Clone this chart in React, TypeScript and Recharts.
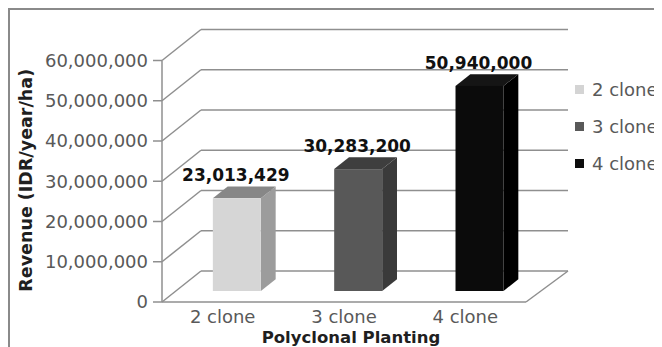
import React from 'react';
import { BarChart, Bar, XAxis, YAxis, CartesianGrid, Cell, LabelList, Legend } from 'recharts';

// Revenue per planting scheme
const categories = ['2 clone', '3 clone', '4 clone'];
const revenue = [23013429, 30283200, 50940000];
const yTicks = [0, 10000000, 20000000, 30000000, 40000000, 50000000, 60000000];

const data = categories.map((name, i) => ({ name, revenue: revenue[i] }));

// Face colours of each 3D column (front / top / side) and its legend key
const palette = [
  { front: '#d6d6d6', top: '#878787', side: '#9c9c9c', key: '#d4d4d4' },
  { front: '#585858', top: '#3e3e3e', side: '#3a3a3a', key: '#595959' },
  { front: '#0b0b0b', top: '#151515', side: '#000000', key: '#0d0d0d' },
];

const FONT = '"DejaVu Sans", sans-serif';
const GRID = '#8f8f8f';

// Perspective box: offset from the front plane to the back wall
const DEPTH_DX_LEFT = 39;
const DEPTH_DX_RIGHT = 42;
const DEPTH_DY = -31;
// Columns sit part-way into the box and have their own depth
const BAR_SHIFT = 0.355;
const BAR_DEPTH = 0.38;

const shiftX = DEPTH_DX_LEFT * BAR_SHIFT;
const shiftY = DEPTH_DY * BAR_SHIFT;
const depthX = DEPTH_DX_LEFT * BAR_DEPTH;
const depthY = DEPTH_DY * BAR_DEPTH;

const fmt = (v: number) => v.toLocaleString('en-US');

// Each value gridline: a diagonal on the side wall and a line across the back wall
const renderGridLine = (p: any) => {
  const { x1, x2, y1 } = p;
  const bx1 = x1 + DEPTH_DX_LEFT;
  const bx2 = x2 + DEPTH_DX_RIGHT;
  const by = y1 + DEPTH_DY;
  const isFloor =
    typeof p.y === 'number' && typeof p.height === 'number' && Math.abs(y1 - (p.y + p.height)) < 1;
  return (
    <g key={p.key ?? `g-${y1}`}>
      <line x1={x1} y1={y1} x2={bx1} y2={by} stroke={GRID} strokeWidth={1.5} />
      <line x1={bx1} y1={by} x2={bx2} y2={by} stroke={GRID} strokeWidth={1.5} />
      {isFloor && <line x1={x2} y1={y1} x2={bx2} y2={by} stroke={GRID} strokeWidth={1.5} />}
    </g>
  );
};

const Column3D = (props: any) => {
  const { x, y, width, height, index } = props;
  if (height == null || width == null) return null;
  const c = palette[index % palette.length];
  const fx = x + shiftX;
  const fy = y + shiftY;
  const top = `${fx},${fy} ${fx + width},${fy} ${fx + width + depthX},${fy + depthY} ${fx + depthX},${fy + depthY}`;
  const side = `${fx + width},${fy} ${fx + width + depthX},${fy + depthY} ${fx + width + depthX},${fy + height + depthY} ${fx + width},${fy + height}`;
  return (
    <g>
      <polygon points={side} fill={c.side} />
      <polygon points={top} fill={c.top} />
      <rect x={fx} y={fy} width={width} height={height} fill={c.front} />
    </g>
  );
};

const ValueLabel = (props: any) => {
  const { x, y, width, value } = props;
  return (
    <text
      x={x + width / 2 + shiftX - 1}
      y={y - 28}
      textAnchor="middle"
      fontFamily={FONT}
      fontWeight="bold"
      fontSize={17}
      fill="#111111"
    >
      {fmt(Number(value))}
    </text>
  );
};

const renderLegend = () => (
  <div style={{ fontFamily: FONT, fontSize: 18, color: '#595959' }}>
    {categories.map((c, i) => (
      <div key={c} style={{ display: 'flex', alignItems: 'center', height: 37, whiteSpace: 'nowrap' }}>
        <span
          style={{ display: 'inline-block', width: 9, height: 9, background: palette[i].key, marginRight: 8 }}
        />
        <span>{c}</span>
      </div>
    ))}
  </div>
);

const XTitle = (props: any) => {
  const vb = props.viewBox || { x: 0, y: 0, width: 0, height: 0 };
  return (
    <text
      x={vb.x + vb.width / 2 + 7}
      y={vb.y + 41}
      textAnchor="middle"
      fontFamily={FONT}
      fontWeight="bold"
      fontSize={16.5}
      fill="#1f1f1f"
    >
      Polyclonal Planting
    </text>
  );
};

const YTitle = (props: any) => {
  const vb = props.viewBox || { x: 0, y: 0, width: 0, height: 0 };
  const cx = vb.x + 18;
  const cy = vb.y + vb.height / 2 - 1;
  return (
    <text
      transform={`translate(${cx},${cy}) rotate(-90)`}
      textAnchor="middle"
      dominantBaseline="central"
      fontFamily={FONT}
      fontWeight="bold"
      fontSize={17.5}
      fill="#1f1f1f"
    >
      Revenue (IDR/year/ha)
    </text>
  );
};

export default function App() {
  return (
    <div style={{ position: 'relative', width: 654, height: 339, background: '#ffffff' }}>
      <BarChart
        width={654}
        height={339}
        data={data}
        margin={{ top: 52.5, right: 136, bottom: 0, left: 0 }}
        style={{ fontFamily: FONT }}
      >
        <CartesianGrid vertical={false} horizontal={renderGridLine} />
        <XAxis
          dataKey="name"
          height={45}
          tickLine={false}
          tickSize={0}
          tickMargin={8}
          axisLine={{ stroke: GRID, strokeWidth: 1.5 }}
          tick={{ fontFamily: FONT, fontSize: 18, fill: '#595959' }}
          label={(p: any) => <XTitle {...p} />}
        />
        <YAxis
          width={154}
          domain={[0, 60000000]}
          ticks={yTicks}
          interval={0}
          tickFormatter={fmt}
          tickSize={9}
          tickMargin={5}
          tickLine={{ stroke: GRID, strokeWidth: 1.5 }}
          axisLine={{ stroke: GRID, strokeWidth: 1.5 }}
          tick={{ fontFamily: FONT, fontSize: 18, fill: '#595959' }}
          label={(p: any) => <YTitle {...p} />}
        />
        <Bar dataKey="revenue" barSize={48} shape={<Column3D />} isAnimationActive={false}>
          {data.map((d, i) => (
            <Cell key={d.name} fill={palette[i].front} />
          ))}
          <LabelList dataKey="revenue" content={<ValueLabel />} />
        </Bar>
        <Legend
          layout="vertical"
          align="center"
          verticalAlign="middle"
          content={renderLegend}
          wrapperStyle={{ position: 'absolute', left: 567, top: 62.5, width: 90, height: 111 }}
        />
      </BarChart>
      <div
        style={{
          position: 'absolute',
          inset: 0,
          boxSizing: 'border-box',
          borderTop: '2px solid #8a8a8a',
          borderLeft: '2px solid #8a8a8a',
          borderRight: '1px solid #e2e2e2',
          pointerEvents: 'none',
        }}
      />
    </div>
  );
}
